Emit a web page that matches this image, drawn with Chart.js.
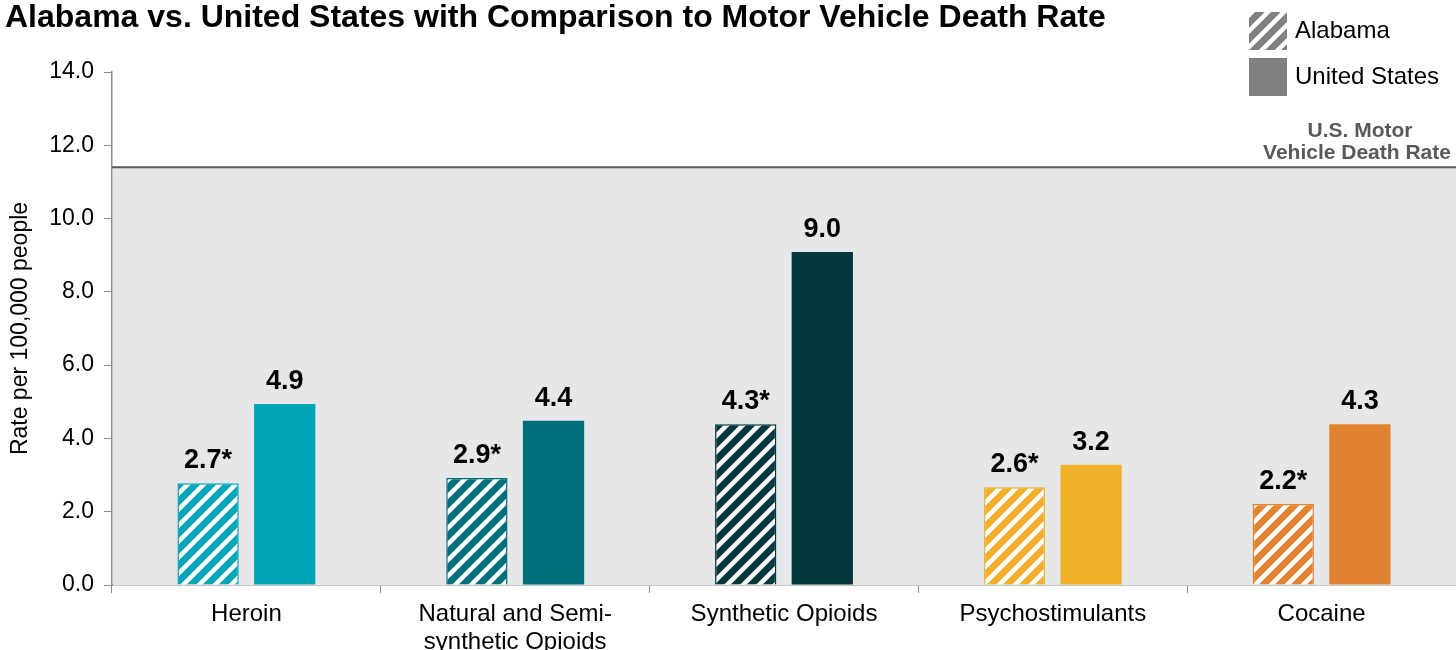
<!DOCTYPE html>
<html>
<head>
<meta charset="utf-8">
<script src="https://cdn.jsdelivr.net/npm/chart.js@4.4.0/dist/chart.umd.min.js"></script>
<style>
  html, body { margin: 0; padding: 0; background: #fff; }
  canvas { display: block; }
</style>
</head>
<body>
<canvas id="grafico" width="1456" height="650"></canvas>
<script>
// datos
const categorias = ["Heroin", ["Natural and Semi-", "synthetic Opioids"], "Synthetic Opioids", "Psychostimulants", "Cocaine"];
const valoresAlabama = [2.78, 2.92, 4.39, 2.67, 2.21];
const valoresEEUU = [4.94, 4.48, 9.09, 3.28, 4.39];
const etiquetasAlabama = ["2.7*", "2.9*", "4.3*", "2.6*", "2.2*"];
const etiquetasEEUU = ["4.9", "4.4", "9.0", "3.2", "4.3"];
const tasaVehiculos = 11.4;
const ticksY = [0, 2, 4, 6, 8, 10, 12, 14];

const colores = ["#00a6b8", "#02707a", "#03373d", "#f0b12a", "#e08432"];
const fuente = "'Liberation Sans', Arial, sans-serif";

function rayado(color) {
  const t = 16;
  const c = document.createElement("canvas");
  c.width = t; c.height = t;
  const ctx = c.getContext("2d");
  ctx.fillStyle = color;
  ctx.fillRect(0, 0, t, t);
  ctx.strokeStyle = "#fff";
  ctx.lineWidth = 4.5;
  ctx.beginPath();
  ctx.moveTo(-t / 2, t / 2); ctx.lineTo(t / 2, -t / 2);
  ctx.moveTo(0, t); ctx.lineTo(t, 0);
  ctx.moveTo(t / 2, t * 1.5); ctx.lineTo(t * 1.5, t / 2);
  ctx.stroke();
  return ctx.createPattern(c, "repeat");
}

// fondo gris bajo la linea de vehiculos, etiquetas y leyenda
const fondoPlugin = {
  id: "fondo",
  beforeDatasetsDraw(chart) {
    const { ctx, chartArea, scales } = chart;
    const yLinea = scales.y.getPixelForValue(tasaVehiculos);
    ctx.save();
    ctx.fillStyle = "#e6e7e9";
    ctx.fillRect(chartArea.left + 1, yLinea, chartArea.right - chartArea.left, chartArea.bottom - yLinea);
    ctx.strokeStyle = "#595959";
    ctx.lineWidth = 2;
    ctx.beginPath();
    ctx.moveTo(chartArea.left, yLinea);
    ctx.lineTo(chartArea.right, yLinea);
    ctx.stroke();
    ctx.fillStyle = "#595959";
    ctx.font = "bold 21px " + fuente;
    ctx.textAlign = "center";
    ctx.textBaseline = "middle";
    ctx.fillText("U.S. Motor", 1360, 131);
    ctx.fillText("Vehicle Death Rate", 1357, 153);
    ctx.restore();
  },
  afterDatasetsDraw(chart) {
    const { ctx } = chart;
    ctx.save();
    ctx.fillStyle = "#000";
    ctx.font = "bold 27px " + fuente;
    ctx.textAlign = "center";
    ctx.textBaseline = "alphabetic";
    [etiquetasAlabama, etiquetasEEUU].forEach((etq, i) => {
      chart.getDatasetMeta(i).data.forEach((bar, j) => {
        ctx.fillText(etq[j], bar.x, bar.y - 15);
      });
    });
    // leyenda
    ctx.fillStyle = rayado("#808080");
    ctx.fillRect(1249, 12, 38, 38);
    ctx.fillStyle = "#808080";
    ctx.fillRect(1249, 58, 38, 38);
    ctx.fillStyle = "#000";
    ctx.font = "24px " + fuente;
    ctx.textAlign = "left";
    ctx.textBaseline = "middle";
    ctx.fillText("Alabama", 1295, 31);
    ctx.fillText("United States", 1295, 77);
    ctx.restore();
  }
};

new Chart(document.getElementById("grafico"), {
  type: "bar",
  data: {
    labels: categorias,
    datasets: [
      {
        label: "Alabama",
        data: valoresAlabama,
        backgroundColor: colores.map(rayado),
        borderColor: colores,
        borderWidth: 1.5,
        categoryPercentage: 0.57,
        barPercentage: 0.8
      },
      {
        label: "United States",
        data: valoresEEUU,
        backgroundColor: colores,
        borderWidth: 0,
        categoryPercentage: 0.57,
        barPercentage: 0.8
      }
    ]
  },
  options: {
    responsive: false,
    devicePixelRatio: 1,
    animation: false,
    layout: { padding: { left: 5, right: 0, top: 0, bottom: 0 } },
    plugins: {
      legend: { display: false },
      tooltip: { enabled: false },
      title: {
        display: true,
        text: "Alabama vs. United States with Comparison to Motor Vehicle Death Rate",
        align: "start",
        color: "#000",
        font: { family: fuente, size: 32, weight: "bold", lineHeight: 1 },
        padding: { top: 2, bottom: 38 }
      }
    },
    scales: {
      x: {
        grid: { display: true, drawOnChartArea: false, drawTicks: true, tickLength: 8, color: "#8c8c8c", offset: true },
        border: { display: true, color: "#8c8c8c", width: 1.5 },
        ticks: { color: "#000", font: { family: fuente, size: 24, lineHeight: 1.18 }, padding: 7, maxRotation: 0, autoSkip: false },
        afterFit(scale) { scale.height = 65; }
      },
      y: {
        min: 0,
        max: 14,
        afterBuildTicks(scale) { scale.ticks = ticksY.map(v => ({ value: v })); },
        grid: { display: true, drawOnChartArea: false, drawTicks: true, tickLength: 8, color: "#8c8c8c" },
        border: { display: true, color: "#8c8c8c", width: 1.5 },
        ticks: {
          color: "#000",
          font: { family: fuente, size: 23 },
          padding: 10,
          callback: v => v.toFixed(1)
        },
        title: {
          display: true,
          text: "Rate per 100,000 people",
          color: "#000",
          font: { family: fuente, size: 23 },
          padding: { top: 2, bottom: 0 }
        },
        afterFit(scale) { scale.width = 107; }
      }
    }
  },
  plugins: [fondoPlugin]
});
</script>
</body>
</html>
